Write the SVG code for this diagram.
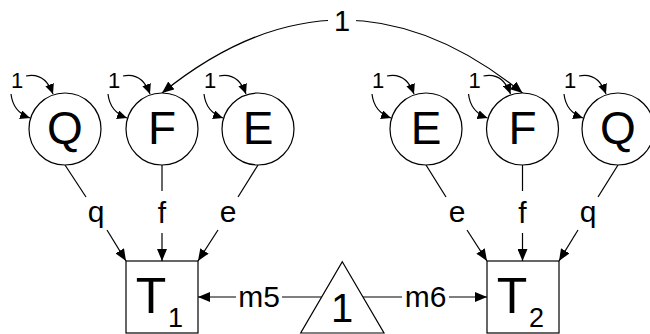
<svg xmlns="http://www.w3.org/2000/svg" width="650" height="334" viewBox="0 0 650 334" font-family="'Liberation Sans', Arial, sans-serif">
<defs>
<style>
text{font-family:"Liberation Sans",Arial,sans-serif;fill:#000}
.ln{fill:none;stroke:#000;stroke-width:1.2}
.nd{fill:#fff;stroke:#000;stroke-width:1.2}
.big{font-size:46px;text-anchor:middle}
.lab{font-size:30px;text-anchor:middle}
.one{font-size:22px;text-anchor:middle}
</style>
<marker id="ah" markerUnits="userSpaceOnUse" markerWidth="12" markerHeight="10" refX="12" refY="5" orient="auto-start-reverse">
<path d="M0,0 L12,5 L0,10 Z" fill="#000"/>
</marker>
<marker id="as" markerUnits="userSpaceOnUse" markerWidth="10" markerHeight="9" refX="10" refY="4.5" orient="auto">
<path d="M0,0 L10,4.5 L0,9 Z" fill="#000"/>
</marker>
</defs>
<rect width="650" height="334" fill="#fff"/>

<g id="connectors">
<path class="ln" d="M162,93 Q342.5,-53 522.5,93" marker-start="url(#ah)" marker-end="url(#ah)"/>
<rect x="328" y="6" width="28" height="30" fill="#fff"/>
<text x="342" y="31" style="font-size:29px;text-anchor:middle">1</text>

<path class="ln" d="M65,165 L86,197"/>
<path class="ln" d="M107,230 L126,261" marker-end="url(#ah)"/>
<text class="lab" x="96" y="222">q</text>
<path class="ln" d="M162,165 L162,191"/>
<path class="ln" d="M162,233 L162,261" marker-end="url(#ah)"/>
<text class="lab" x="162" y="223">f</text>
<path class="ln" d="M258,165 L238,197"/>
<path class="ln" d="M218,230 L198,261" marker-end="url(#ah)"/>
<text class="lab" x="228" y="222">e</text>

<path class="ln" d="M426,165 L446,197"/>
<path class="ln" d="M467,230 L487,261" marker-end="url(#ah)"/>
<text class="lab" x="457" y="222">e</text>
<path class="ln" d="M522.5,165 L522.5,191"/>
<path class="ln" d="M522.5,233 L522.5,261" marker-end="url(#ah)"/>
<text class="lab" x="522.5" y="223">f</text>
<path class="ln" d="M618,165 L598,197"/>
<path class="ln" d="M578,230 L559,261" marker-end="url(#ah)"/>
<text class="lab" x="588" y="222">q</text>

<path class="ln" d="M236,297 L198,297" marker-end="url(#ah)"/>
<path class="ln" d="M282,297 L321.6,297"/>
<text class="lab" x="259" y="307">m5</text>
<path class="ln" d="M363,297 L402,297"/>
<path class="ln" d="M449,297 L487,297" marker-end="url(#ah)"/>
<text class="lab" x="425.5" y="307">m6</text>

<g id="loops">
<path class="ln" d="M26,76 Q45,72 53,94" marker-end="url(#as)"/>
<path class="ln" d="M11,94 Q13,112 30,118" marker-end="url(#as)"/>
<text class="one" x="17" y="88">1</text>
<path class="ln" d="M123,76 Q142,72 150,94" marker-end="url(#as)"/>
<path class="ln" d="M108,94 Q110,112 127,118" marker-end="url(#as)"/>
<text class="one" x="114" y="88">1</text>
<path class="ln" d="M219,76 Q238,72 246,94" marker-end="url(#as)"/>
<path class="ln" d="M204,94 Q206,112 223,118" marker-end="url(#as)"/>
<text class="one" x="210" y="88">1</text>
<path class="ln" d="M387,76 Q406,72 414,94" marker-end="url(#as)"/>
<path class="ln" d="M372,94 Q374,112 391,118" marker-end="url(#as)"/>
<text class="one" x="378" y="88">1</text>
<path class="ln" d="M483.5,76 Q502.5,72 510.5,94" marker-end="url(#as)"/>
<path class="ln" d="M468.5,94 Q470.5,112 487.5,118" marker-end="url(#as)"/>
<text class="one" x="474.5" y="88">1</text>
<path class="ln" d="M579,76 Q598,72 606,94" marker-end="url(#as)"/>
<path class="ln" d="M564,94 Q566,112 583,118" marker-end="url(#as)"/>
<text class="one" x="570" y="88">1</text>
</g>
</g>

<g id="Q1"><circle class="nd" cx="65" cy="129" r="36"/><text class="big" x="65" y="144">Q</text></g>
<g id="F1"><circle class="nd" cx="162" cy="129" r="36"/><text class="big" x="162" y="144">F</text></g>
<g id="E1"><circle class="nd" cx="258" cy="129" r="36"/><text class="big" x="258" y="144">E</text></g>
<g id="E2"><circle class="nd" cx="426" cy="129" r="36"/><text class="big" x="426" y="144">E</text></g>
<g id="F2"><circle class="nd" cx="522.5" cy="129" r="36"/><text class="big" x="522.5" y="144">F</text></g>
<g id="Q2"><circle class="nd" cx="618" cy="129" r="36"/><text class="big" x="618" y="144">Q</text></g>

<g id="T1"><rect class="nd" x="126" y="261" width="72" height="72"/><text x="151" y="313" style="font-size:50px;text-anchor:middle">T</text><text x="168" y="327" style="font-size:27px">1</text></g>
<g id="T2"><rect class="nd" x="487" y="261" width="72" height="72"/><text x="512" y="313" style="font-size:50px;text-anchor:middle">T</text><text x="529" y="327" style="font-size:27px">2</text></g>

<g id="mean"><path class="nd" d="M342.3,261.7 L384,333 L300.7,333 Z"/><text x="342" y="322" style="font-size:40px;text-anchor:middle">1</text></g>
</svg>
